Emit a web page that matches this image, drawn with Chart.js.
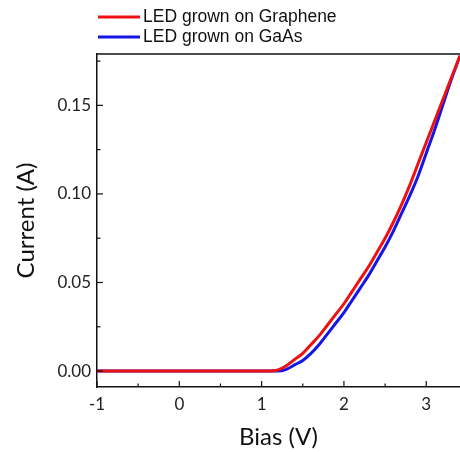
<!DOCTYPE html>
<html><head><meta charset="utf-8">
<script src="https://cdn.jsdelivr.net/npm/chart.js@4"></script>
<style>html,body{margin:0;padding:0;background:#fff}canvas{display:block}</style>
</head><body>
<canvas id="c" width="460" height="452"></canvas>
<script>
const seriesNames = ["LED grown on Graphene", "LED grown on GaAs"];
const biasGraphene = [-1, 0, 1.0, 1.1, 1.2, 1.3, 1.4, 1.5, 1.6, 1.7, 1.8, 1.9, 2.0, 2.1, 2.2, 2.3, 2.4, 2.5, 2.6, 2.7, 2.8, 2.9, 3.0, 3.1, 3.2, 3.3, 3.41];
const currentGraphene = [0, 0, 0, 0, 0.0007, 0.003, 0.0065, 0.010, 0.015, 0.020, 0.026, 0.032, 0.038, 0.045, 0.052, 0.059, 0.067, 0.075, 0.084, 0.094, 0.105, 0.117, 0.129, 0.141, 0.153, 0.165, 0.178];
const biasGaAs = [-1, 0, 1.0, 1.1, 1.2, 1.3, 1.4, 1.5, 1.6, 1.7, 1.8, 1.9, 2.0, 2.1, 2.2, 2.3, 2.4, 2.5, 2.6, 2.7, 2.8, 2.9, 3.0, 3.1, 3.2, 3.3, 3.41];
const currentGaAs = [0, 0, 0, 0, 0, 0.001, 0.0035, 0.006, 0.010, 0.015, 0.021, 0.027, 0.033, 0.040, 0.047, 0.054, 0.062, 0.070, 0.079, 0.089, 0.099, 0.110, 0.123, 0.136, 0.150, 0.164, 0.178];
const xTicks = [-1, 0, 1, 2, 3];
const yTicks = [0, 0.05, 0.10, 0.15];
const xMinorTicks = [-0.5, 0.5, 1.5, 2.5];
const yMinorTicks = [0.025, 0.075, 0.125, 0.175];

const colors = ["#ee1111", "#1515e6"];
const fam = "Lato, 'Open Sans', sans-serif";
const tickFont = {family: fam, size: 17};

const toPts = (xs, ys) => xs.map((x, i) => ({x, y: ys[i]}));

const decor = {
  id: 'decor',
  afterDraw(chart) {
    const ctx = chart.ctx, a = chart.chartArea;
    const xs = chart.scales.x, ys = chart.scales.y;
    ctx.save();
    ctx.strokeStyle = '#111';
    ctx.lineWidth = 1.5;
    ctx.beginPath(); ctx.moveTo(a.left, a.top); ctx.lineTo(a.right, a.top); ctx.stroke();
    ctx.lineWidth = 1.2;
    const tk = (v, len) => { const p = xs.getPixelForValue(v); ctx.beginPath(); ctx.moveTo(p, a.bottom); ctx.lineTo(p, a.bottom - len); ctx.stroke(); };
    const tky = (v, len) => { const p = ys.getPixelForValue(v); ctx.beginPath(); ctx.moveTo(a.left, p); ctx.lineTo(a.left + len, p); ctx.stroke(); };
    xTicks.forEach(v => tk(v, 6)); xMinorTicks.forEach(v => tk(v, 3.5));
    yTicks.forEach(v => tky(v, 6)); yMinorTicks.forEach(v => tky(v, 3.5));
    ctx.font = "17.5px 'Liberation Sans', Arial, sans-serif";
    ctx.textBaseline = 'middle';
    ctx.fillStyle = '#111';
    seriesNames.forEach((n, i) => {
      const y = 17 + i * 20;
      ctx.strokeStyle = colors[i]; ctx.lineWidth = 3;
      ctx.beginPath(); ctx.moveTo(98, y); ctx.lineTo(140, y); ctx.stroke();
      ctx.fillText(n, 143, y);
    });
    ctx.restore();
  }
};

new Chart(document.getElementById('c'), {
  type: 'line',
  data: {
    datasets: [
      {label: seriesNames[0], data: toPts(biasGraphene, currentGraphene), borderColor: colors[0], borderWidth: 3, pointRadius: 0, cubicInterpolationMode: 'monotone', fill: false},
      {label: seriesNames[1], data: toPts(biasGaAs, currentGaAs), borderColor: colors[1], borderWidth: 3, pointRadius: 0, cubicInterpolationMode: 'monotone', fill: false}
    ]
  },
  options: {
    responsive: false,
    animation: false,
    layout: {padding: {top: 54, right: 0, left: 0, bottom: 0}},
    plugins: {legend: {display: false}, tooltip: {enabled: false}},
    scales: {
      x: {
        type: 'linear', min: -1, max: 3.41,
        afterBuildTicks: s => { s.ticks = xTicks.map(v => ({value: v})); },
        afterFit: s => { s.height = 65; },
        grid: {display: false, drawTicks: false},
        border: {display: true, color: '#111', width: 1.5},
        ticks: {color: '#222', font: tickFont, padding: 7, maxRotation: 0, callback: v => String(v)},
        title: {display: true, text: 'Bias (V)', color: '#111', font: {family: fam, size: 24}, padding: {top: 0, bottom: 0}}
      },
      y: {
        type: 'linear', min: -0.009, max: 0.179,
        afterBuildTicks: s => { s.ticks = yTicks.map(v => ({value: v})); },
        afterFit: s => { s.width = 97; },
        grid: {display: false, drawTicks: false},
        border: {display: true, color: '#111', width: 1.5},
        ticks: {color: '#222', font: tickFont, padding: 6, callback: v => Number(v).toFixed(2)},
        title: {display: true, text: 'Current (A)', color: '#111', font: {family: fam, size: 24}, padding: {top: 12, bottom: 0}}
      }
    }
  },
  plugins: [decor]
});
</script>
</body></html>
